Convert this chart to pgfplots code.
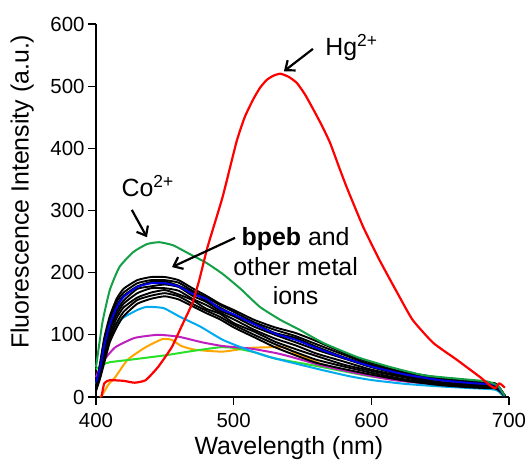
\documentclass[border=0pt]{standalone}
\usepackage{fontspec}
\setmainfont{Liberation Sans}
\usepackage{pgfplots}
\usepackage{pgfplotstable}
\pgfplotsset{compat=1.18}
\usetikzlibrary{arrows.meta}

\definecolor{hgred}{RGB}{255,0,0}
\definecolor{cogreen}{RGB}{20,160,70}
\definecolor{limegr}{RGB}{40,225,40}
\definecolor{skyblue}{RGB}{0,170,240}
\definecolor{magen}{RGB}{190,30,190}
\definecolor{orng}{RGB}{255,165,0}
\definecolor{dblue}{RGB}{0,0,230}

% black bundle: bpeb and the other metal ions
\pgfplotstableread{
x   b0  b1  b2  b3  b4  b5  b6  b7
400 10  11  13  12  14  14  15  15
403 30  34  37  41  46  48  52  55
406 55  61  68  73  78  85  91  95
410 88  94  100 107 114 119 125 130
415 112 119 127 133 139 147 153 158
420 130 137 144 150 155 163 168 174
430 150 156 160 167 174 178 183 188
440 158 163 168 175 178 185 188 193
450 162 167 172 175 181 186 188 193
460 157 162 165 171 177 179 184 188
470 146 150 156 158 163 169 171 175
480 135 139 142 148 153 155 160 163
490 125 129 134 136 139 144 148 150
500 112 116 119 125 130 132 137 140
515 96  100 105 108 113 118 120 124
530 80  85  89  94  100 103 108 112
545 67  72  77  83  88  95  98  103
560 55  60  66  70  76  81  85  90
580 45  49  52  57  62  64  68  71
600 36  39  42  44  48  50  52  55
625 26  28  31  32  34  36  38  40
650 19  21  22  24  27  28  29  31
675 15  17  18  19  21  23  24  25
690 14  15  16  18  19  20  21  22
694 8   9   9   10  10  11  12  12
697 1   1   1   1   2   2   2   2
}\blackset

\begin{document}
\begin{tikzpicture}
\begin{axis}[
  at={(0,0)}, anchor=south west,
  width=413bp, height=373bp, scale only axis,
  xmin=400, xmax=700, ymin=0, ymax=600,
  axis x line*=bottom, axis y line*=left,
  axis line style={-, line width=1.3bp},
  xtick={400,500,600,700}, ytick={0,100,...,600},
  tick align=outside, major tick length=8bp,
  tick style={line width=1.3bp, black},
  ticklabel style={font=\fontsize{20.5}{24}\selectfont},
  xticklabel style={yshift=-5bp},
  /pgf/number format/assume math mode=true,
  xlabel={Wavelength (nm)},
  ylabel={Fluorescence Intensity (a.u.)},
  label style={font=\fontsize{25}{30}\selectfont},
  xlabel style={at={(axis description cs:0.467,-0.153)}, anchor=base},
  ylabel style={at={(axis description cs:-0.179,0.55)}, anchor=center},
  clip=false,
  every axis plot/.append style={line join=round},
]
% orange
\addplot[orng, line width=2bp, smooth, tension=0.3] coordinates {
(403,0) (405,5) (409,20) (414,32) (423,60) (436,80) (448,93) (455,92) (462,82)
(472,76) (492,73) (512,79) (536,80) (545,70) (565,52) (590,38) (615,28) (640,22)
(665,18) (690,14) (694,6) (697,1)};
% lime
\addplot[limegr, line width=2bp, smooth, tension=0.3] coordinates {
(400,45) (405,52) (410,56) (425,60) (450,67) (470,74) (490,80) (500,79) (515,72)
(530,62) (560,50) (600,33) (640,23) (680,15) (692,11) (695,4) (697,1)};
% magenta
\addplot[magen, line width=2bp, smooth, tension=0.3] coordinates {
(400,32) (403,48) (406,60) (414,80) (428,95) (445,100) (460,97) (477,88) (492,82)
(512,78) (530,71) (541,65) (565,50) (590,38) (614,28) (638,22) (659,19) (684,21)
(692,16) (695,5) (697,1)};
% sky blue
\addplot[skyblue, line width=2bp, smooth, tension=0.3] coordinates {
(400,20) (403,45) (406,75) (410,100) (415,118) (420,128) (430,140) (437,145)
(449,143) (461,129) (476,113) (492,92) (510,76) (525,65) (541,56) (565,43)
(585,33) (601,27) (625,21) (650,17) (675,14) (690,12) (694,6) (697,1)};
% black bundle
\foreach \c in {b0,b1,b2,b3,b4,b5,b6,b7}{
  \addplot[black, line width=1.9bp, smooth, tension=0.3] table[x=x, y=\c] {\blackset};
}
% dark blue
\addplot[dblue, line width=2bp, smooth, tension=0.3] coordinates {
(400,24) (403,47) (406,83) (410,117) (415,144) (420,161) (430,177) (440,183)
(450,183) (460,178) (470,166) (480,158) (490,142) (500,133) (515,117) (530,102)
(545,92) (560,79) (580,63) (600,49) (625,36) (650,27) (675,22) (690,20) (694,10)
(697,2)};
% Co2+
\addplot[cogreen, line width=2bp, smooth, tension=0.3] coordinates {
(400,48) (403,95) (405,124) (410,172) (417,209) (427,233) (437,246) (446,249)
(456,244) (468,230) (480,216) (492,198) (505,174) (519,145) (534,124) (548,108)
(565,87) (590,64) (614,48) (638,35) (660,30) (684,25) (692,18) (695,8) (697,2)};
% Hg2+
\addplot[hgred, line width=2.2bp, smooth, tension=0.3] coordinates {
(404,0) (406,22) (410,27) (420,26) (428,23) (436,27) (445,48) (455,80) (462,113)
(470,151) (475,188) (481,241) (492,322) (502,410) (508,450) (514,478) (519,497)
(524,510) (529,517) (534,520) (540,515) (546,505) (552,486) (558,462) (564,437)
(570,409) (576,373) (582,338) (594,274) (606,220) (619,167) (630,124)
(645,87) (662,60) (679,32) (686,19) (690,14) (693,22) (697,15)};

% annotations
\node[anchor=base west, font=\fontsize{25}{30}\selectfont] at (axis cs:564,550) {Hg\textsuperscript{2+}};
\draw[line width=2.2bp, -{Straight Barb[length=8bp,width=13bp]}] (axis cs:557.6,560) -- (axis cs:536.5,524);
\node[anchor=base west, font=\fontsize{25}{30}\selectfont] at (axis cs:416,322) {Co\textsuperscript{2+}};
\draw[line width=2.2bp, -{Straight Barb[length=8bp,width=13bp]}] (axis cs:426,301) -- (axis cs:437,257);
\node[anchor=base, font=\fontsize{25}{30}\selectfont] at (axis cs:545,244.5) {\textbf{bpeb} and};
\node[anchor=base, font=\fontsize{25}{30}\selectfont] at (axis cs:545,196.2) {other metal};
\node[anchor=base, font=\fontsize{25}{30}\selectfont] at (axis cs:545,148) {ions};
\draw[line width=2.2bp, -{Straight Barb[length=8bp,width=13bp]}] (axis cs:501,256) -- (axis cs:455.2,209);
\end{axis}
\pgfresetboundingbox
\path (-96bp,-66bp) rectangle (431bp,397bp);
\end{tikzpicture}
\end{document}
